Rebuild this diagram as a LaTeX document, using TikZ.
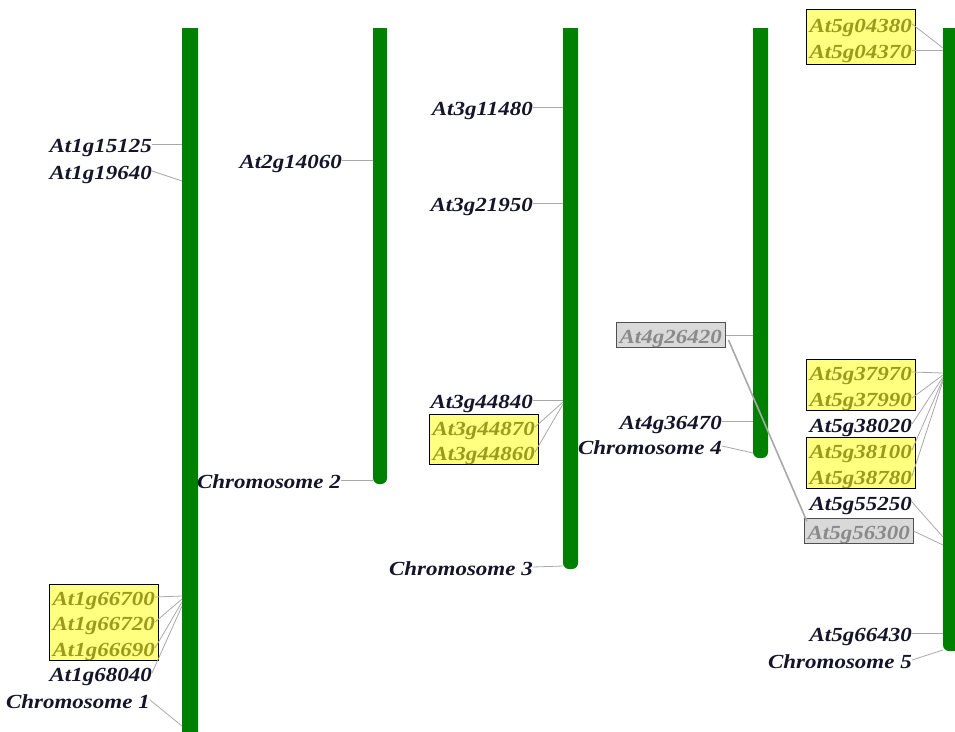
\documentclass[tikz,border=0pt]{standalone}
\usepackage{fontspec}
\setmainfont{Liberation Serif}[FakeStretch=1.15]
\usetikzlibrary{fit,backgrounds}

\definecolor{chromgreen}{HTML}{008000}
\definecolor{linkgray}{HTML}{A8A8A8}
\definecolor{genetext}{HTML}{14142A}
\definecolor{boxfill}{HTML}{FFFF80}
\definecolor{boxtext}{HTML}{9A9A1E}
\definecolor{pairfill}{HTML}{D9D9D9}
\definecolor{pairtext}{HTML}{8A8A8A}
\definecolor{pairdraw}{HTML}{505050}

\tikzset{
  gene/.style={font=\bfseries\itshape\fontsize{20}{24}\selectfont, inner sep=0pt,
    anchor=east, text height=18pt, text depth=2pt, text=genetext},
  boxgene/.style={gene, text=boxtext},
  pairgene/.style={gene, text=pairtext},
  genebox/.style={draw=black, fill=boxfill, line width=1pt, inner xsep=3pt, inner ysep=2.5pt},
  pairbox/.style={draw=pairdraw, fill=pairfill, line width=1pt, inner xsep=3pt, inner ysep=2pt},
  tick/.style={draw=linkgray, line width=0.8pt},
  pairlink/.style={draw=linkgray, line width=1.6pt},
  chrom/.style={fill=chromgreen}
}

% a chromosome bar: flat top, rounded bottom
\newcommand{\chrombar}[3]{%
  \fill[chrom] (#2,28) -- (#1,28) [rounded corners=6pt] -- (#1,#3) -- (#2,#3) [sharp corners] -- (#2,28) -- cycle;}

\begin{document}
\begin{tikzpicture}[x=1pt,y=-1pt]
\useasboundingbox (0,0) rectangle (955,731);

% bars
\chrombar{182}{198}{740}
\chrombar{373}{387}{484}
\chrombar{563}{578}{569}
\chrombar{753}{768}{458}
\chrombar{943}{965}{651}

% ---------- Chromosome 1 ----------
\node[gene] (g1a) at (152,144) {At1g15125};
\node[gene] (g1b) at (152,171) {At1g19640};
\node[boxgene] (g1c) at (155,597) {At1g66700};
\node[boxgene] (g1d) at (155,622) {At1g66720};
\node[boxgene] (g1e) at (155,648) {At1g66690};
\node[gene] (g1f) at (152,673) {At1g68040};
\node[gene] (c1) at (150,700) {Chromosome 1};
\begin{scope}[on background layer]
  \node[genebox, fit=(g1c)(g1d)(g1e)] (box1) {};
\end{scope}
\coordinate (p1a) at (182,144);
\coordinate (p1b) at (182,181);
\coordinate (p1c) at (182,596);
\coordinate (p1d) at (182,599);
\coordinate (p1e) at (182,602);
\coordinate (p1f) at (182,606);
\coordinate (p1z) at (182,726);
\draw[tick] (g1a.east) -- (p1a);
\draw[tick] (g1b.east) -- (p1b);
\draw[tick] (g1c.east) -- (p1c);
\draw[tick] (g1d.east) -- (p1d);
\draw[tick] (g1e.east) -- (p1e);
\draw[tick] (g1f.east) -- (p1f);
\draw[tick] (c1.east) -- (p1z);

% ---------- Chromosome 2 ----------
\node[gene] (g2a) at (342,160) {At2g14060};
\node[gene] (c2) at (341,480) {Chromosome 2};
\coordinate (p2a) at (373,160);
\coordinate (p2z) at (373,480);
\draw[tick] (g2a.east) -- (p2a);
\draw[tick] (c2.east) -- (p2z);

% ---------- Chromosome 3 ----------
\node[gene] (g3a) at (533,107) {At3g11480};
\node[gene] (g3b) at (533,203) {At3g21950};
\node[gene] (g3c) at (533,400) {At3g44840};
\node[boxgene] (g3d) at (535,427) {At3g44870};
\node[boxgene] (g3e) at (535,452) {At3g44860};
\node[gene] (c3) at (533,567) {Chromosome 3};
\begin{scope}[on background layer]
  \node[genebox, fit=(g3d)(g3e)] (box3) {};
\end{scope}
\coordinate (p3a) at (563,107);
\coordinate (p3b) at (563,203);
\coordinate (p3c) at (563,400);
\coordinate (p3d) at (563,402);
\coordinate (p3e) at (563,404);
\coordinate (p3z) at (563,566);
\draw[tick] (g3a.east) -- (p3a);
\draw[tick] (g3b.east) -- (p3b);
\draw[tick] (g3c.east) -- (p3c);
\draw[tick] (g3d.east) -- (p3d);
\draw[tick] (g3e.east) -- (p3e);
\draw[tick] (c3.east) -- (p3z);

% ---------- Chromosome 4 ----------
\node[pairgene] (g4a) at (722,335) {At4g26420};
\node[gene] (g4b) at (722,421) {At4g36470};
\node[gene] (c4) at (722,446) {Chromosome 4};
\begin{scope}[on background layer]
  \node[pairbox, fit=(g4a)] (box4) {};
\end{scope}
\coordinate (p4a) at (753,335);
\coordinate (p4b) at (753,421);
\coordinate (p4z) at (753,453);
\draw[tick] (box4.east) -- (p4a);
\draw[tick] (g4b.east) -- (p4b);
\draw[tick] (c4.east) -- (p4z);

% ---------- Chromosome 5 ----------
\node[boxgene] (g5a) at (912,24) {At5g04380};
\node[boxgene] (g5b) at (912,50) {At5g04370};
\node[boxgene] (g5c) at (912,372) {At5g37970};
\node[boxgene] (g5d) at (912,398) {At5g37990};
\node[gene] (g5e) at (912,424) {At5g38020};
\node[boxgene] (g5f) at (912,450) {At5g38100};
\node[boxgene] (g5g) at (912,476) {At5g38780};
\node[gene] (g5h) at (912,502) {At5g55250};
\node[pairgene] (g5i) at (910,531) {At5g56300};
\node[gene] (g5j) at (912,633) {At5g66430};
\node[gene] (c5) at (912,660) {Chromosome 5};
\begin{scope}[on background layer]
  \node[genebox, fit=(g5a)(g5b), inner ysep=4pt] (box5a) {};
  \node[genebox, fit=(g5c)(g5d)] (box5b) {};
  \node[genebox, fit=(g5f)(g5g)] (box5c) {};
  \node[pairbox, fit=(g5i)] (box5d) {};
\end{scope}
\coordinate (p5a) at (943,48);
\coordinate (p5b) at (943,50);
\coordinate (p5c) at (943,373);
\coordinate (p5d) at (943,375);
\coordinate (p5e) at (943,377);
\coordinate (p5f) at (943,379);
\coordinate (p5g) at (943,381);
\coordinate (p5h) at (943,537);
\coordinate (p5i) at (943,545);
\coordinate (p5j) at (943,633);
\coordinate (p5z) at (943,650);
\draw[tick] (g5a.east) -- (p5a);
\draw[tick] (g5b.east) -- (p5b);
\draw[tick] (g5c.east) -- (p5c);
\draw[tick] (g5d.east) -- (p5d);
\draw[tick] (g5e.east) -- (p5e);
\draw[tick] (g5f.east) -- (p5f);
\draw[tick] (g5g.east) -- (p5g);
\draw[tick] (g5h.east) -- (p5h);
\draw[tick] (box5d.east) -- (p5i);
\draw[tick] (g5j.east) -- (p5j);
\draw[tick] (c5.east) -- (p5z);

% paired genes across chromosomes 4 and 5
\path (box4.east) ++(3,5) coordinate (l4) (box5d.north west) ++(3,3) coordinate (l5);
\draw[pairlink] (l4) -- (l5);
\end{tikzpicture}
\end{document}
